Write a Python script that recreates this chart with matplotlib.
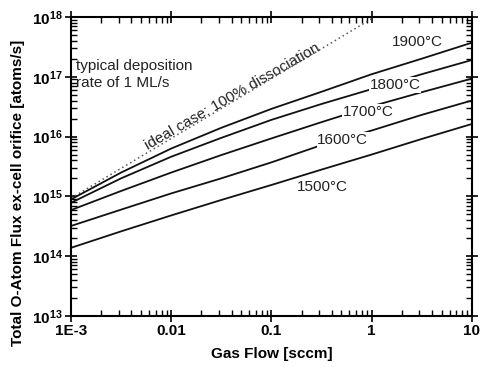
import math
import matplotlib
matplotlib.use("Agg")
import matplotlib.pyplot as plt
from matplotlib.ticker import LogLocator, FixedLocator, FuncFormatter, NullFormatter

plt.rcParams["font.family"] = ["Liberation Sans", "DejaVu Sans"]
plt.rcParams["mathtext.fontset"] = "custom"
plt.rcParams["mathtext.rm"] = "Liberation Sans"
plt.rcParams["mathtext.bf"] = "Liberation Sans:bold"

# gas flow [sccm] and total O flux [atoms/s]
flow = [1e-3, 3.16e-3, 1e-2, 3.16e-2, 0.1, 0.316, 1, 3.16, 10]
flux_1900 = [8.9e14, 2.5e15, 6.3e15, 1.4e16, 2.9e16, 5.6e16, 1.1e17, 2.0e17, 3.7e17]
flux_1800 = [7.8e14, 2.0e15, 4.6e15, 9.5e15, 1.9e16, 3.5e16, 6.2e16, 1.1e17, 1.9e17]
flux_1700 = [5.9e14, 1.23e15, 2.5e15, 4.9e15, 9.3e15, 1.74e16, 3.2e16, 5.5e16, 9.3e16]
flux_1600 = [3.2e14, 6.0e14, 1.12e15, 2.0e15, 3.7e15, 7.2e15, 1.26e16, 2.3e16, 4.0e16]
flux_1500 = [1.38e14, 2.6e14, 4.8e14, 8.7e14, 1.55e15, 2.8e15, 5.0e15, 9.1e15, 1.62e16]
ideal_flow = [1e-3, 1e-2, 1e-1, 1, 10]
ideal_flux = [9.3e14, 9.3e15, 9.3e16, 9.3e17, 9.3e18]

curves = [flux_1900, flux_1800, flux_1700, flux_1600, flux_1500]
labels = ["1900°C", "1800°C", "1700°C", "1600°C", "1500°C"]
label_pos = [(2.83, 3.8e17), (1.71, 7.2e16), (0.918, 2.6e16), (0.516, 8.7e15), (0.319, 1.45e15)]

xticks = [1e-3, 1e-2, 0.1, 1, 10]
xticklabels = ["1E-3", "0.01", "0.1", "1", "10"]

fig = plt.figure(figsize=(4.8, 3.67), dpi=100)
ax = fig.add_axes([0.148, 0.139, 0.835, 0.815])

ax.plot(ideal_flow, ideal_flux, color="#555555", lw=1.1, ls=(0, (1, 2)))
for c in curves:
    ax.plot(flow, c, color="#111111", lw=1.3)

ax.set_xscale("log")
ax.set_yscale("log")
ax.set_xlim(1e-3, 10)
ax.set_ylim(1e13, 1e18)

for lab, pos in zip(labels, label_pos):
    box = None
    if lab in ("1800°C", "1700°C", "1600°C"):
        # labels sit on the line and break it
        box = dict(facecolor="white", edgecolor="none", pad=0.5)
    ax.text(pos[0], pos[1], lab, fontsize=11, ha="center", va="center",
            color="#222222", bbox=box)

ax.text(0.0404, 4.6e16, "ideal case: 100% dissociation", fontsize=11,
        rotation=30, ha="center", va="center", rotation_mode="anchor", color="#222222")
ax.text(0.013, 0.86, "typical deposition\nrate of 1 ML/s", transform=ax.transAxes,
        fontsize=11, ha="left", va="top", color="#222222", linespacing=1.25)

ax.xaxis.set_major_locator(FixedLocator(xticks))
ax.set_xticklabels(xticklabels, fontweight="bold", fontsize=11)
ax.xaxis.set_minor_locator(LogLocator(base=10, subs=range(2, 10)))
ax.xaxis.set_minor_formatter(NullFormatter())
ax.yaxis.set_major_locator(LogLocator(base=10, numticks=10))
ax.yaxis.set_major_formatter(FuncFormatter(lambda v, p: r"$\mathbf{10^{%d}}$" % round(math.log10(v))))
ax.yaxis.set_minor_locator(LogLocator(base=10, subs=range(2, 10), numticks=20))
ax.yaxis.set_minor_formatter(NullFormatter())

ax.tick_params(which="major", direction="inout", length=8, width=1.2,
               top=True, right=True, labelsize=11, pad=2)
ax.tick_params(which="minor", direction="in", length=4, width=1.0, top=True, right=True)
for s in ax.spines.values():
    s.set_linewidth(1.5)

ax.set_xlabel("Gas Flow [sccm]", fontsize=11, fontweight="bold", labelpad=6)
ax.set_ylabel("Total O-Atom Flux ex-cell orifice [atoms/s]", fontsize=11, fontweight="bold")
ax.yaxis.set_label_coords(-0.115, 0.41)

fig.savefig("out.png", dpi=100)
